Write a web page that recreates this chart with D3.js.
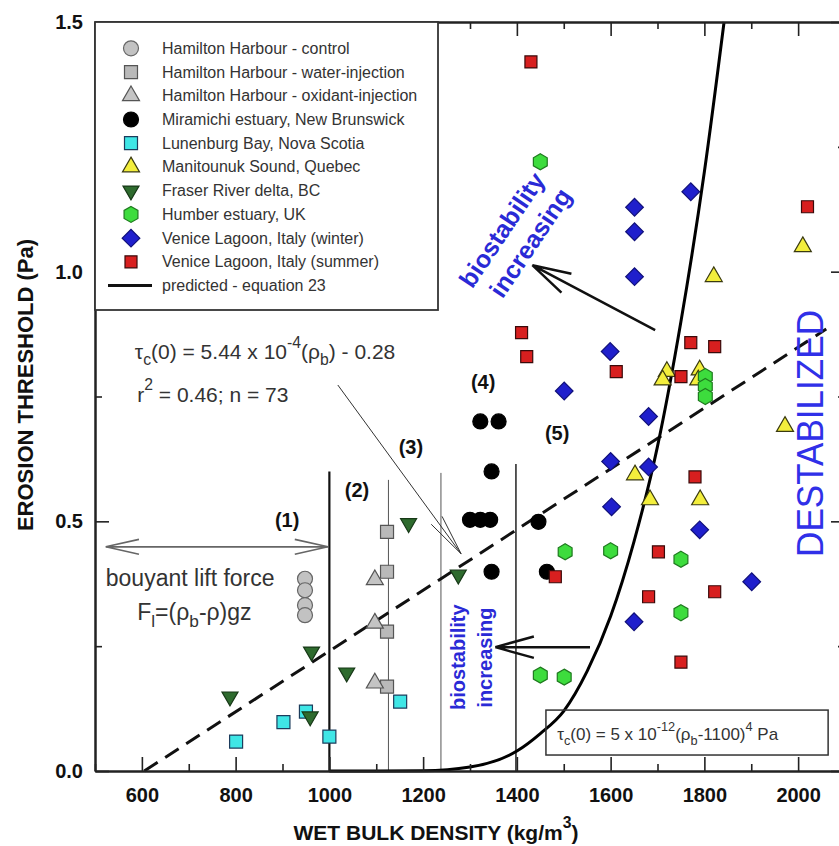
<!DOCTYPE html>
<html>
<head>
<meta charset="utf-8">
<script src="https://cdn.jsdelivr.net/npm/d3@7"></script>
<style>
  body { margin: 0; background: #fff; overflow: hidden; }
  svg { display: block; font-family: "Liberation Sans", Arial, sans-serif; }
</style>
</head>
<body>
<div id="chart"></div>
<script>
// ---- data (x = wet bulk density kg/m3, y = erosion threshold Pa)
const hamiltonControl = [[948, 0.385], [948, 0.362], [948, 0.332], [948, 0.312]];
const hamiltonWater   = [[1123, 0.479], [1123, 0.399], [1123, 0.279], [1123, 0.169]];
const hamiltonOxidant = [[1097, 0.383], [1097, 0.296], [1097, 0.176]];
const miramichi = [[1322, 0.70], [1361, 0.70], [1346, 0.60], [1300, 0.503], [1322, 0.503],
                   [1343, 0.503], [1446, 0.499], [1346, 0.399], [1464, 0.399]];
const lunenburg = [[801, 0.059], [902, 0.098], [950, 0.119], [1000, 0.069], [1151, 0.139]];
const manitounuk = [[1820, 0.99], [2010, 1.05], [1720, 0.80], [1711, 0.783], [1790, 0.803],
                    [1787, 0.783], [1972, 0.69], [1652, 0.593], [1684, 0.543], [1791, 0.543]];
const fraser = [[1169, 0.496], [1275, 0.393], [962, 0.239], [1037, 0.197], [959, 0.109], [788, 0.149]];
const humber = [[1450, 1.22], [1802, 0.79], [1802, 0.77], [1802, 0.75], [1503, 0.439], [1600, 0.441],
                [1750, 0.424], [1750, 0.317], [1450, 0.192], [1501, 0.188]];
const veniceWinter = [[1651, 1.129], [1651, 1.08], [1651, 0.99], [1771, 1.16], [1599, 0.84],
                      [1501, 0.761], [1681, 0.71], [1600, 0.62], [1681, 0.609], [1602, 0.529],
                      [1790, 0.483], [1901, 0.379], [1650, 0.299]];
const veniceSummer = [[1430, 1.42], [2020, 1.13], [1410, 0.878], [1421, 0.83], [1612, 0.80],
                      [1771, 0.858], [1822, 0.85], [1750, 0.79], [1780, 0.589], [1702, 0.439],
                      [1681, 0.349], [1822, 0.359], [1750, 0.218], [1482, 0.389]];

// predicted curve (equation 23)
const predX = [1000, 1100, 1200, 1300, 1400, 1450, 1500, 1550, 1600, 1650, 1700, 1750, 1800, 1842];
const predY = [0, 0, 0.0005, 0.008, 0.04, 0.075, 0.12, 0.2, 0.31, 0.46, 0.65, 0.9, 1.2, 1.5];

// dashed regression line end points
const regX = [605, 2060];
const regY = [0, 0.885];

// class boundaries (1)-(5)
const zoneX = [1000, 1126, 1238, 1398];
const zoneTop = [0.60, 0.583, 0.597, 0.615];

const legendLabels = [
  "Hamilton Harbour - control", "Hamilton Harbour - water-injection",
  "Hamilton Harbour - oxidant-injection", "Miramichi estuary, New Brunswick",
  "Lunenburg Bay, Nova Scotia", "Manitounuk Sound, Quebec", "Fraser River delta, BC",
  "Humber estuary, UK", "Venice Lagoon, Italy (winter)", "Venice Lagoon, Italy (summer)",
  "predicted - equation 23"
];
const xTicks = [600, 800, 1000, 1200, 1400, 1600, 1800, 2000];
const yTicks = [0, 0.5, 1.0, 1.5];

// ---- layout
const margin = {top: 22, left: 95};
const width = 750, height = 749;

const svg = d3.select("#chart").append("svg")
  .attr("width", 839).attr("height", 846);
const g = svg.append("g").attr("transform", "translate(" + margin.left + "," + margin.top + ")");

const x = d3.scaleLinear().domain([500, 2100]).range([0, width]);
const y = d3.scaleLinear().domain([0, 1.5]).range([height, 0]);

// symbol helpers
const hexPath = r => d3.line()(d3.range(6).map(i => {
  const a = Math.PI / 3 * i - Math.PI / 2;
  return [r * Math.cos(a), r * Math.sin(a)];
})) + "Z";
const sym = (type, size) => d3.symbol().type(type).size(size)();

const series = [
  {data: hamiltonControl, d: sym(d3.symbolCircle, Math.PI * 7.5 * 7.5), fill: "#c2c2c2", stroke: "#666", rot: 0},
  {data: hamiltonWater, d: sym(d3.symbolSquare, 13 * 13), fill: "#b9b9b9", stroke: "#555", rot: 0},
  {data: hamiltonOxidant, d: sym(d3.symbolTriangle, 0.433 * 17 * 17), fill: "#c4c4c4", stroke: "#555", rot: 0},
  {data: miramichi, d: sym(d3.symbolCircle, Math.PI * 7.5 * 7.5), fill: "#000", stroke: "#000", rot: 0},
  {data: lunenburg, d: sym(d3.symbolSquare, 13 * 13), fill: "#3fe6e6", stroke: "#1c3c5c", rot: 0},
  {data: manitounuk, d: sym(d3.symbolTriangle, 0.433 * 17 * 17), fill: "#f3ee3c", stroke: "#3a3a10", rot: 0},
  {data: fraser, d: sym(d3.symbolTriangle, 0.433 * 16 * 16), fill: "#2e6b2e", stroke: "#173817", rot: 180},
  {data: humber, d: hexPath(8), fill: "#3ddc3d", stroke: "#1f7a1f", rot: 0},
  {data: veniceWinter, d: sym(d3.symbolSquare, 12.5 * 12.5), fill: "#1f1fcc", stroke: "#10107a", rot: 45},
  {data: veniceSummer, d: sym(d3.symbolSquare, 12 * 12), fill: "#d81f1f", stroke: "#3a0a0a", rot: 0}
];

// ---- class boundaries
g.selectAll(".zone").data(zoneX).enter().append("line")
  .attr("x1", d => x(d)).attr("x2", d => x(d))
  .attr("y1", y(0)).attr("y2", (d, i) => y(zoneTop[i]))
  .attr("stroke", (d, i) => i === 0 ? "#111" : i === 3 ? "#222" : "#555")
  .attr("stroke-width", (d, i) => i === 0 ? 2.2 : i === 3 ? 1.5 : 1);

// ---- regression line (dashed)
g.append("path")
  .attr("d", d3.line().x(d => x(d[0])).y(d => y(d[1]))(d3.zip(regX, regY)))
  .attr("fill", "none").attr("stroke", "#111").attr("stroke-width", 3)
  .attr("stroke-dasharray", "16,9");

// ---- predicted curve
g.append("path")
  .attr("d", d3.line().x(d => x(d[0])).y(d => y(d[1])).curve(d3.curveMonotoneX)(d3.zip(predX, predY)))
  .attr("fill", "none").attr("stroke", "#000").attr("stroke-width", 3);

// ---- points
series.forEach(s => {
  g.append("g").selectAll("path").data(s.data).enter().append("path")
    .attr("d", s.d)
    .attr("transform", d => "translate(" + x(d[0]) + "," + y(d[1]) + ") rotate(" + s.rot + ")")
    .attr("fill", s.fill).attr("stroke", s.stroke).attr("stroke-width", 1.2);
});

// ---- text helpers
function rich(sel, parts, fs) {
  let shift = 0;
  parts.forEach(p => {
    const mode = p[1] || "";
    const target = mode === "sup" ? -0.55 * fs : mode === "sub" ? 0.3 * fs : 0;
    sel.append("tspan").attr("dy", target - shift)
      .attr("font-size", mode ? fs * 0.75 : fs).text(p[0]);
    shift = target;
  });
}
function arrow(x1, y1, x2, y2, len, ang, color, w) {
  // open arrow head at (x2, y2)
  const a = Math.atan2(y1 - y2, x1 - x2);
  const path = d3.path();
  path.moveTo(x1, y1); path.lineTo(x2, y2);
  [ang, -ang].forEach(da => {
    path.moveTo(x2, y2);
    path.lineTo(x2 + len * Math.cos(a + da), y2 + len * Math.sin(a + da));
  });
  g.append("path").attr("d", path.toString()).attr("fill", "none")
    .attr("stroke", color).attr("stroke-width", w);
}

// class labels
const classLabels = [["(1)", 910, 0.503], ["(2)", 1059, 0.563], ["(3)", 1174, 0.649],
                     ["(4)", 1328, 0.779], ["(5)", 1486, 0.677]];
g.selectAll(".cls").data(classLabels).enter().append("text")
  .attr("x", d => x(d[1])).attr("y", d => y(d[2]))
  .attr("text-anchor", "middle").attr("dominant-baseline", "central")
  .attr("font-size", 20).attr("font-weight", "bold").attr("fill", "#111")
  .text(d => d[0]);

// regression equation
const eq1 = g.append("text").attr("x", x(585)).attr("y", y(0.825)).attr("fill", "#333");
rich(eq1, [["τ"], ["c", "sub"], ["(0) = 5.44 x 10"], ["-4", "sup"], ["(ρ"], ["b", "sub"], [") - 0.28"]], 21);
const eq2 = g.append("text").attr("x", x(590)).attr("y", y(0.739)).attr("fill", "#333");
rich(eq2, [["r"], ["2", "sup"], [" = 0.46; n = 73"]], 21);

// leader from equation to regression line
arrow(x(1018), y(0.773), x(1281), y(0.435), 42, 0.16, "#333", 1);

// buoyant lift force
arrow(x(997), y(0.449), x(523), y(0.449), 34, 0.22, "#666", 1.6);
arrow(x(523), y(0.449), x(997), y(0.449), 34, 0.22, "#666", 1.6);
g.append("text").attr("x", x(523)).attr("y", y(0.371))
  .attr("font-size", 23).attr("fill", "#333").text("bouyant lift force");
const fl = g.append("text").attr("x", x(590)).attr("y", y(0.302)).attr("fill", "#333");
rich(fl, [["F"], ["l", "sub"], ["=(ρ"], ["b", "sub"], ["-ρ)gz"]], 23);

// biostability arrows and labels
arrow(x(1695), y(0.883), x(1433), y(1.013), 40, 0.27, "#111", 2.5);
arrow(x(1556), y(0.248), x(1354), y(0.248), 40, 0.27, "#111", 2.5);

const blue = "#2a2ad6";
[["biostability", 1367.5, 1.084], ["increasing", 1428, 1.058]].forEach(d => {
  g.append("text").attr("transform", "translate(" + x(d[1]) + "," + y(d[2]) + ") rotate(-56)")
    .attr("text-anchor", "middle").attr("dominant-baseline", "central")
    .attr("font-size", 25).attr("font-weight", "bold").attr("fill", blue).text(d[0]);
});
[["biostability", 1273.6, 0.228], ["increasing", 1331, 0.227]].forEach(d => {
  g.append("text").attr("transform", "translate(" + x(d[1]) + "," + y(d[2]) + ") rotate(-90)")
    .attr("text-anchor", "middle").attr("dominant-baseline", "central")
    .attr("font-size", 20).attr("font-weight", "bold").attr("fill", blue).text(d[0]);
});

g.append("text").attr("transform", "translate(" + x(2027) + "," + y(0.676) + ") rotate(-90)")
  .attr("text-anchor", "middle").attr("dominant-baseline", "central")
  .attr("font-size", 37).attr("fill", "#3030e8")
  .attr("textLength", 247).attr("lengthAdjust", "spacingAndGlyphs")
  .text("DESTABILIZED");

// equation box bottom right
g.append("rect").attr("x", x(1462)).attr("y", y(0.122))
  .attr("width", x(2064) - x(1462)).attr("height", y(0.032) - y(0.122))
  .attr("fill", "none").attr("stroke", "#333").attr("stroke-width", 1.5);
const eq3 = g.append("text").attr("x", x(1486)).attr("y", y(0.062)).attr("fill", "#333");
rich(eq3, [["τ"], ["c", "sub"], ["(0) = 5 x 10"], ["-12", "sup"], ["(ρ"], ["b", "sub"], ["-1100)"], ["4", "sup"], [" Pa"]], 17);

// ---- axes (ticks point inward on all four sides)
const minorX = d3.range(500, 2101, 100).filter(v => v % 200 !== 0);
const minorY = [0.25, 0.75, 1.25];
const styleAxis = sel => {
  sel.select(".domain").attr("stroke", "#222").attr("stroke-width", 2);
  sel.selectAll(".tick line").attr("stroke", "#222").attr("stroke-width", 1.6);
  sel.selectAll(".tick text").attr("font-size", 20).attr("font-weight", "bold")
    .attr("fill", "#111").attr("font-family", "Liberation Sans, Arial, sans-serif");
};
g.append("g").attr("transform", "translate(0," + height + ")")
  .call(d3.axisBottom(x).tickValues(xTicks).tickSize(-14).tickSizeOuter(0).tickPadding(17).tickFormat(d3.format("d")))
  .call(styleAxis);
g.append("g").attr("transform", "translate(0," + height + ")")
  .call(d3.axisBottom(x).tickValues(minorX).tickSize(-7).tickSizeOuter(0).tickFormat(""))
  .call(styleAxis);
g.append("g")
  .call(d3.axisTop(x).tickValues(xTicks).tickSize(-14).tickSizeOuter(0).tickFormat(""))
  .call(styleAxis);
g.append("g")
  .call(d3.axisTop(x).tickValues(minorX).tickSize(-7).tickSizeOuter(0).tickFormat(""))
  .call(styleAxis);
g.append("g")
  .call(d3.axisLeft(y).tickValues(yTicks).tickSize(-14).tickSizeOuter(0).tickPadding(12).tickFormat(d3.format(".1f")))
  .call(styleAxis);
g.append("g")
  .call(d3.axisLeft(y).tickValues(minorY).tickSize(-7).tickSizeOuter(0).tickFormat(""))
  .call(styleAxis);
g.append("g").attr("transform", "translate(" + width + ",0)")
  .call(d3.axisRight(y).tickValues(yTicks).tickSize(-14).tickSizeOuter(0).tickFormat(""))
  .call(styleAxis);
g.append("g").attr("transform", "translate(" + width + ",0)")
  .call(d3.axisRight(y).tickValues(minorY).tickSize(-7).tickSizeOuter(0).tickFormat(""))
  .call(styleAxis);

// axis titles
svg.append("text")
  .attr("transform", "translate(25," + 385 + ") rotate(-90)")
  .attr("text-anchor", "middle").attr("dominant-baseline", "central")
  .attr("font-size", 22).attr("font-weight", "bold").attr("fill", "#111")
  .text("EROSION THRESHOLD (Pa)");
const xt = svg.append("text").attr("x", 436).attr("y", 840)
  .attr("text-anchor", "middle").attr("font-weight", "bold").attr("fill", "#111");
rich(xt, [["WET BULK DENSITY (kg/m"], ["3", "sup"], [")"]], 21);

// ---- legend
const legend = svg.append("g");
legend.append("rect").attr("x", 95).attr("y", 22).attr("width", 343).attr("height", 288)
  .attr("fill", "#fff").attr("stroke", "#333").attr("stroke-width", 1.8);
legendLabels.forEach((lab, i) => {
  const ly = 48.3 + i * 23.73;
  if (i < series.length) {
    const s = series[i];
    legend.append("path").attr("d", s.d)
      .attr("transform", "translate(131," + ly + ") rotate(" + s.rot + ")")
      .attr("fill", s.fill).attr("stroke", s.stroke).attr("stroke-width", 1.2);
  } else {
    legend.append("line").attr("x1", 108).attr("x2", 152).attr("y1", ly).attr("y2", ly)
      .attr("stroke", "#111").attr("stroke-width", 3);
  }
  legend.append("text").attr("x", 162).attr("y", ly).attr("dominant-baseline", "central")
    .attr("font-size", 16).attr("fill", "#333").text(lab);
});
</script>
</body>
</html>
